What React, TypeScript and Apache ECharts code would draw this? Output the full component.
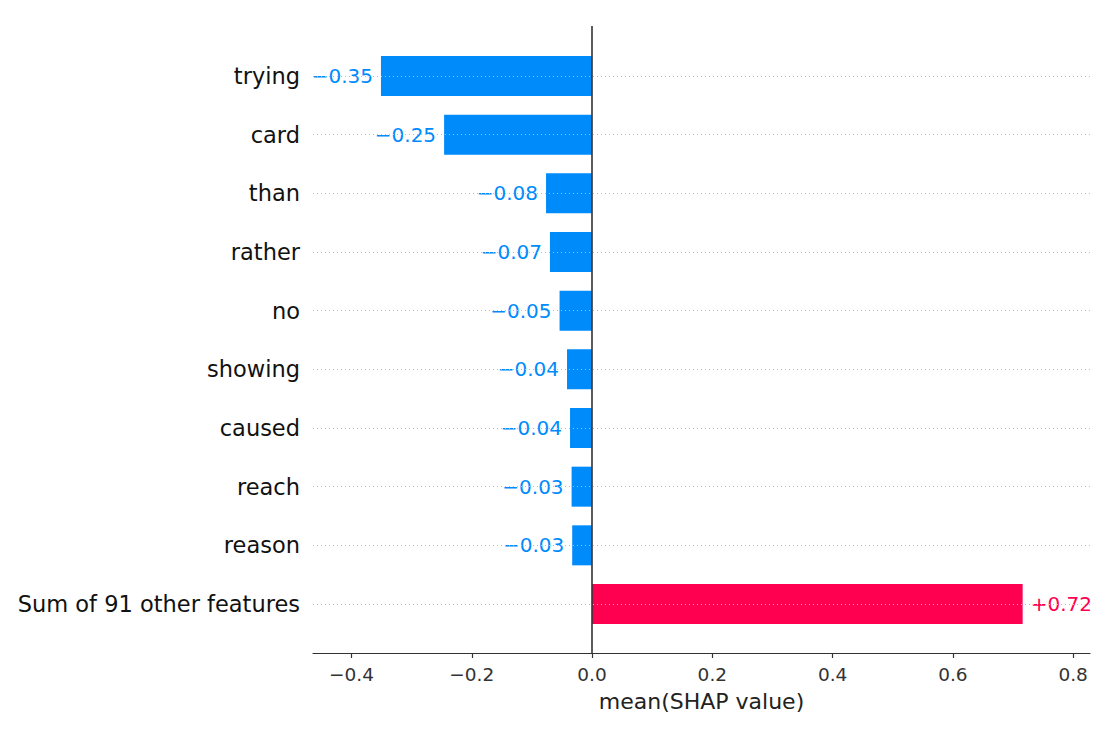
import React, { useEffect, useRef } from 'react';
import * as echarts from 'echarts';

const categories = ['trying', 'card', 'than', 'rather', 'no', 'showing', 'caused', 'reach', 'reason', 'Sum of 91 other features'];
const values = [-0.351, -0.246, -0.0765, -0.07, -0.054, -0.0416, -0.0366, -0.034, -0.033, 0.716];
const xTicks = [-0.4, -0.2, 0, 0.2, 0.4, 0.6, 0.8];
const xMin = -0.464;
const xMax = 0.828;

const BLUE = '#008bfb';
const RED = '#ff0051';

function fmtTick(v: number): string {
  if (Math.abs(v) < 1e-9) return '0.0';
  return (v < 0 ? '\u2212' : '') + Math.abs(v).toFixed(1);
}
function fmtVal(v: number): string {
  return (v < 0 ? '\u2212' : '+') + Math.abs(v).toFixed(2);
}

export default function App() {
  const ref = useRef<HTMLDivElement>(null);
  useEffect(() => {
    const chart = echarts.init(ref.current!, null, { renderer: 'svg' });
    const font = 'DejaVu Sans';
    chart.setOption({
      animation: false,
      backgroundColor: '#fff',
      textStyle: { fontFamily: font },
      grid: [
        { left: 313, right: 26, top: 26, bottom: 79 },
        { left: 313, right: 26, top: 46.67, bottom: 98.67 },
      ],
      xAxis: [
        {
          gridIndex: 0,
          type: 'value',
          min: xMin,
          max: xMax,
          axisLine: { show: true, lineStyle: { color: '#333', width: 1.2 } },
          axisTick: { show: true, length: 5, customValues: xTicks, lineStyle: { color: '#333', width: 1.2 } },
          axisLabel: { customValues: xTicks, formatter: fmtTick, fontSize: 18.5, color: '#333', margin: 12, fontFamily: font },
          splitLine: { show: false },
          name: 'mean(SHAP value)',
          nameLocation: 'middle',
          nameGap: 37,
          nameTextStyle: { fontSize: 22, color: '#222', fontFamily: font },
        },
        { gridIndex: 1, type: 'value', min: xMin, max: xMax, show: false },
      ],
      yAxis: [
        { gridIndex: 0, type: 'value', show: false, min: 0, max: 1 },
        {
          gridIndex: 1,
          type: 'category',
          data: categories,
          inverse: true,
          axisLine: { show: false },
          axisTick: { show: false },
          axisLabel: { fontSize: 22.5, color: '#111', margin: 13, fontFamily: font },
          splitLine: { show: false },
        },
      ],
      series: [
        {
          type: 'line',
          xAxisIndex: 0,
          yAxisIndex: 0,
          data: [],
          z: 1,
          markLine: {
            silent: true,
            symbol: 'none',
            label: { show: false },
            lineStyle: { color: '#333', width: 1.6, type: 'solid' },
            data: [{ xAxis: 0 }],
          },
        },
        {
          type: 'line',
          xAxisIndex: 1,
          yAxisIndex: 1,
          data: [],
          z: 1,
          markLine: {
            silent: true,
            symbol: 'none',
            label: { show: false },
            lineStyle: { color: '#bbb', width: 1, type: [1, 3] },
            data: categories.map((c) => ({ yAxis: c })),
          },
        },
        {
          type: 'bar',
          xAxisIndex: 1,
          yAxisIndex: 1,
          z: 3,
          barWidth: 40,
          data: values.map((v) => ({
            value: v,
            itemStyle: { color: v < 0 ? BLUE : RED },
            label: { position: v < 0 ? 'left' : 'right', color: v < 0 ? BLUE : RED },
          })),
          label: {
            show: true,
            fontSize: 20,
            distance: 8,
            fontFamily: font,
            backgroundColor: '#fff',
            formatter: (p: any) => fmtVal(p.value),
          },
        },
      ],
    });
    return () => chart.dispose();
  }, []);
  return <div ref={ref} style={{ position: 'fixed', left: 0, top: 0, width: 1116, height: 732, background: '#fff' }} />;
}
